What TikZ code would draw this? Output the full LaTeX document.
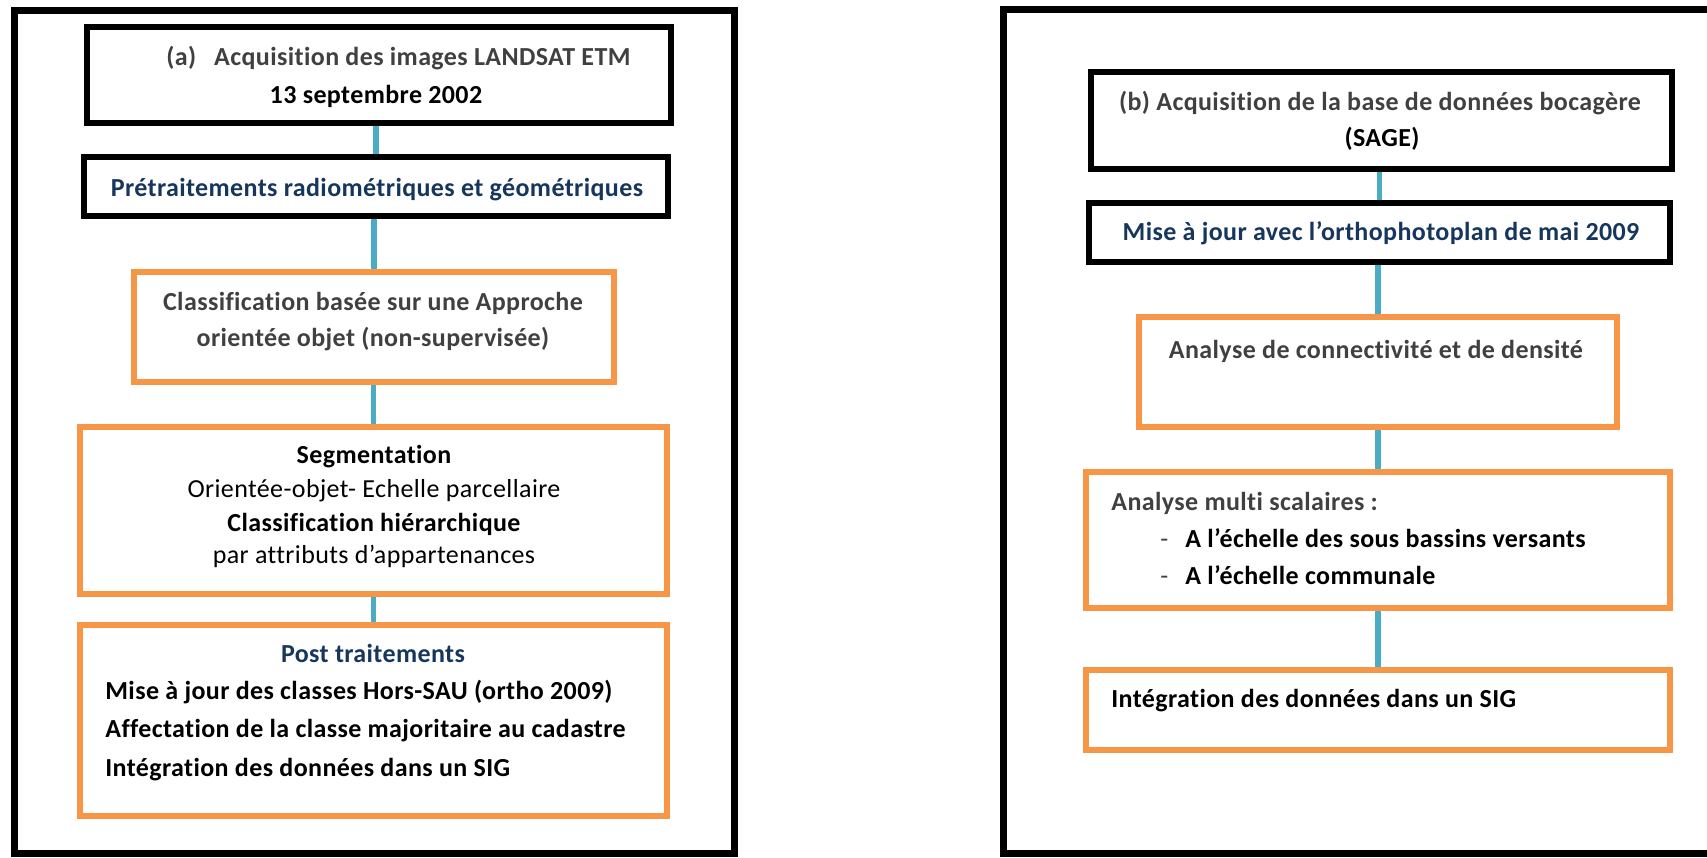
\documentclass[tikz,border=0pt]{standalone}
\usepackage{fontspec}
\setmainfont{Carlito}[Ligatures=NoCommon, LetterSpace=1.5]
\usetikzlibrary{fit}
\definecolor{gtext}{HTML}{404040}
\definecolor{ntext}{HTML}{17365D}
\definecolor{orng}{HTML}{F79646}
\definecolor{bluec}{HTML}{4BACC6}
\tikzset{
  frame/.style={draw=black, line width=3.5pt, inner sep=0pt, fit={#1}},
  blackbox/.style={draw=black, line width=3pt, inner sep=0pt, fit={#1}},
  orangebox/.style={draw=orng, line width=3pt, inner sep=0pt, fit={#1}},
  conn/.style={draw=bluec, line width=2.6pt},
  txt/.style={inner sep=0pt, font=\fontsize{13}{15}\selectfont\bfseries, anchor=base},
  txtl/.style={txt, anchor=base west},
  reg/.style={font=\fontsize{13}{15}\selectfont},
}
\begin{document}
\begin{tikzpicture}[x=0.5pt, y=-0.5pt]
\useasboundingbox (0,0) rectangle (1707,857);
% outer frames
\node[frame={(14,10)(734,853)}] (fl) {};
\node[frame={(1003,9)(1716,853)}] (fr) {};
% left panel boxes
\node[blackbox={(87,27)(671,123)}] (a1) {};
\node[blackbox={(84,157)(668,216)}] (a2) {};
\node[orangebox={(134,272)(614,382)}] (b) {};
\node[orangebox={(80,427)(667,594)}] (c) {};
\node[orangebox={(80,625)(667,816)}] (d) {};
% right panel boxes
\node[blackbox={(1091,72)(1672,169)}] (e) {};
\node[blackbox={(1089,203)(1670,262)}] (f) {};
\node[orangebox={(1139,317)(1617,427)}] (g) {};
\node[orangebox={(1086,472)(1670,608)}] (h) {};
\node[orangebox={(1086,670)(1670,750)}] (i) {};
% connectors
\draw[conn] (a2.north |- a1.south) -- (a2.north);
\draw[conn] (b.north |- a2.south) -- (b.north);
\draw[conn] (c.north |- b.south) -- (c.north);
\draw[conn] (d.north |- c.south) -- (d.north);
\draw[conn] (f.north |- e.south) -- (f.north);
\draw[conn] (g.north |- f.south) -- (g.north);
\draw[conn] (h.north |- g.south) -- (h.north);
\draw[conn] (i.north |- h.south) -- (i.north);
% left texts
\node[txtl, text=gtext] (t1) at (166,65) {(a)\hspace{9pt}Acquisition des images LANDSAT ETM};
\node[txt] (t2) at (376,103) {13 septembre 2002};
\node[txt, text=ntext] (t3) at (377,196) {Prétraitements radiométriques et géométriques};
\node[txt, text=gtext] (t4) at (373,310) {Classification basée sur une Approche};
\node[txt, text=gtext] (t5) at (373,346) {orientée objet (non-supervisée)};
\node[txt] (t6) at (374,463) {Segmentation};
\node[txt, reg] (t7) at (374,497) {Orientée-objet- Echelle parcellaire};
\node[txt] (t8) at (374,531) {Classification hiérarchique};
\node[txt, reg] (t9) at (374,563) {par attributs d’appartenances};
\node[txt, text=ntext] (t10) at (373,662) {Post traitements};
\node[txtl] (t11) at (105,699) {Mise à jour des classes Hors-SAU (ortho 2009)};
\node[txtl] (t12) at (105,737) {Affectation de la classe majoritaire au cadastre};
\node[txtl] (t13) at (105,776) {Intégration des données dans un SIG};
% right texts
\node[txt, text=gtext] (u1) at (1380,110) {(b) Acquisition de la base de données bocagère};
\node[txt] (u2) at (1382,146) {(SAGE)};
\node[txt, text=ntext] (u3) at (1381,240) {Mise à jour avec l’orthophotoplan de mai 2009};
\node[txt, text=gtext] (u4) at (1376,358) {Analyse de connectivité et de densité};
\node[txtl, text=gtext] (u5) at (1111,510) {Analyse multi scalaires :};
\node[txtl, text=gtext, reg] (u6) at (1160,547) {-};
\node[txtl] (u7) at (1185,547) {A l’échelle des sous bassins versants};
\node[txtl, text=gtext, reg] (u8) at (1160,584) {-};
\node[txtl] (u9) at (1185,584) {A l’échelle communale};
\node[txtl] (u10) at (1111,707) {Intégration des données dans un SIG};
\end{tikzpicture}
\end{document}
